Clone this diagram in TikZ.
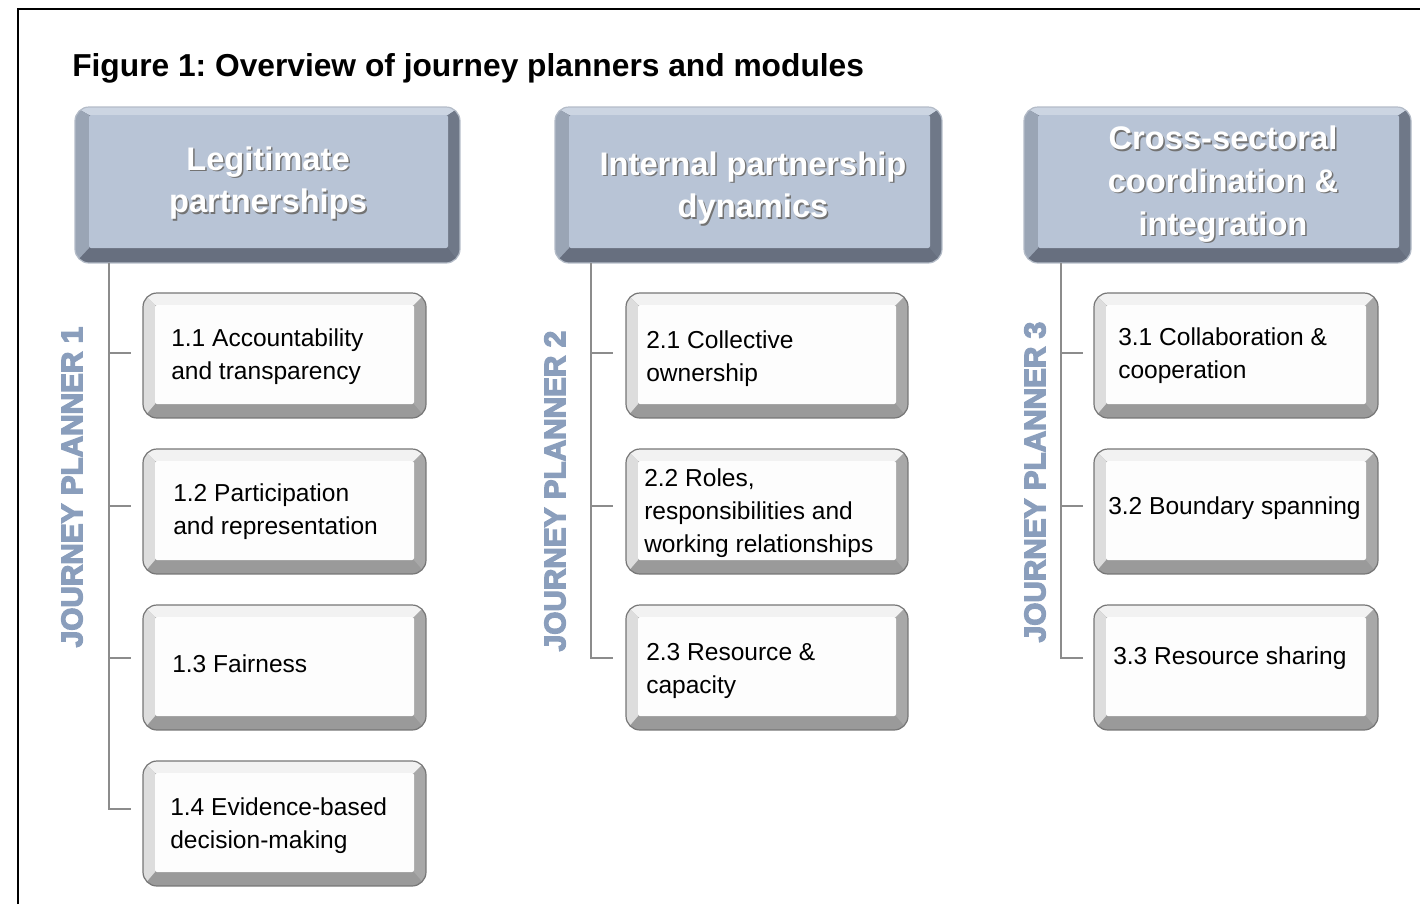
\documentclass[tikz,border=0pt]{standalone}
\usepackage{fontspec}
\setmainfont{Liberation Sans}
\usetikzlibrary{fit}
\frenchspacing

% heavy outlined-and-filled lettering for the planner labels
\newcommand\heavytext[1]{\special{pdf:literal direct 2 Tr 1.0 w}#1\special{pdf:literal direct 0 Tr}}

% palettes for the beveled boxes
\definecolor{hdrface}{HTML}{B8C4D6}
\definecolor{hdrtop}{HTML}{CCD5E2}
\definecolor{hdrleft}{HTML}{9AA5B5}
\definecolor{hdrright}{HTML}{6F7888}
\definecolor{hdrbottom}{HTML}{676F7F}
\definecolor{hdrline}{HTML}{B4BCC8}
\definecolor{modface}{HTML}{FDFDFD}
\definecolor{modtop}{HTML}{F2F2F2}
\definecolor{modleft}{HTML}{DDDDDD}
\definecolor{modright}{HTML}{A8A8A8}
\definecolor{modbottom}{HTML}{9A9A9A}
\definecolor{modline}{HTML}{767676}
\definecolor{plannerblue}{HTML}{8A9EBC}
\definecolor{treegray}{HTML}{8C8C8C}

% bevel widths (left, right, top, bottom) per palette
\def\hdrinL{14}\def\hdrinR{12}\def\hdrinT{8}\def\hdrinB{15}
\def\modinL{12}\def\modinR{12}\def\modinT{12}\def\modinB{14}

% #1 name, #2 left, #3 top, #4 right, #5 bottom, #6 palette
\newcommand\bevelbox[6]{%
  \pgfmathsetmacro\bxa{#2+\csname #6inL\endcsname}%
  \pgfmathsetmacro\bxb{#4-\csname #6inR\endcsname}%
  \pgfmathsetmacro\bya{#3+\csname #6inT\endcsname}%
  \pgfmathsetmacro\byb{#5-\csname #6inB\endcsname}%
  \begin{scope}
    \clip[rounded corners=10.5pt] (#2,#3) rectangle (#4,#5);
    \fill[fill=#6bottom] (#2,#3) rectangle (#4,#5);
    \fill[fill=#6top] (#2,#3) -- (#4,#3) -- (\bxb,\bya) -- (\bxa,\bya) -- cycle;
    \fill[fill=#6left] (#2,#3) -- (\bxa,\bya) -- (\bxa,\byb) -- (#2,#5) -- cycle;
    \fill[fill=#6right] (#4,#3) -- (\bxb,\bya) -- (\bxb,\byb) -- (#4,#5) -- cycle;
  \end{scope}
  \fill[fill=#6face, rounded corners=1.5pt] (\bxa,\bya) rectangle (\bxb,\byb);
  \draw[draw=#6line, line width=0.9pt, rounded corners=10.5pt] (#2,#3) rectangle (#4,#5);
  \node[fit={(#2,#3) (#4,#5)}, inner sep=0pt] (#1) {};
}

\tikzset{
  frameline/.style={line width=2.2pt, draw=black},
  titletext/.style={font=\bfseries\fontsize{23.8}{28}\selectfont, inner sep=0pt, anchor=base west},
  hdrtext/.style={font=\bfseries\fontsize{24.5}{32}\selectfont, align=center, text=white, inner sep=0pt},
  hdrshadow/.style={font=\bfseries\fontsize{24.5}{32}\selectfont, align=center, text=black!55, inner sep=0pt},
  modtext/.style={font=\fontsize{18.4}{24.75}\selectfont, align=left, inner sep=0pt, anchor=west},
  plannerlabel/.style={font=\bfseries\fontsize{22.3}{26}\selectfont, text=plannerblue, rotate=90, inner sep=0pt},
  tree/.style={draw=treegray, line width=1.5pt},
}

\begin{document}
\begin{tikzpicture}[x=0.75pt, y=-0.75pt]
\useasboundingbox (0,0) rectangle (1420,904);

% page frame (top and left rules)
\draw[frameline] (18,904) -- (18,9) -- (1422,9);

\node[titletext] (title) at (72,76) {Figure 1: Overview of journey planners and modules};

% journey planner headers
\bevelbox{h1}{75}{107}{460}{263}{hdr}
\bevelbox{h2}{555}{107}{942}{263}{hdr}
\bevelbox{h3}{1024}{107}{1411}{263}{hdr}

\node[hdrshadow] (h1s) at (269.5,184.5) {Legitimate\\partnerships};
\node[hdrtext]   (h1t) at (268,183) {Legitimate\\partnerships};
\node[hdrshadow] (h2s) at (754.5,189.5) {Internal partnership\\dynamics};
\node[hdrtext]   (h2t) at (753,188) {Internal partnership\\dynamics};
\node[hdrshadow] (h3s) at (1224.5,185.5) {Cross-sectoral\\coordination \&\\integration};
\node[hdrtext]   (h3t) at (1223,184) {Cross-sectoral\\coordination \&\\integration};

% vertical planner labels
\node[plannerlabel] (p1) at (72,487) {\heavytext{JOURNEY PLANNER 1}};
\node[plannerlabel] (p2) at (555,491) {\heavytext{JOURNEY PLANNER 2}};
\node[plannerlabel] (p3) at (1035,482) {\heavytext{JOURNEY PLANNER 3}};

% module boxes
\bevelbox{m11}{143}{293}{426}{418}{mod}
\bevelbox{m12}{143}{449}{426}{574}{mod}
\bevelbox{m13}{143}{605}{426}{730}{mod}
\bevelbox{m14}{143}{761}{426}{886}{mod}
\bevelbox{m21}{626}{293}{908}{418}{mod}
\bevelbox{m22}{626}{449}{908}{574}{mod}
\bevelbox{m23}{626}{605}{908}{730}{mod}
\bevelbox{m31}{1094}{293}{1378}{418}{mod}
\bevelbox{m32}{1094}{449}{1378}{574}{mod}
\bevelbox{m33}{1094}{605}{1378}{730}{mod}

\node[modtext] (t11) at (171,357) {1.1 Accountability\\and transparency};
\node[modtext] (t12) at (173,512) {1.2 Participation\\and representation};
\node[modtext] (t13) at (172,664) {1.3 Fairness};
\node[modtext] (t14) at (170,826) {1.4 Evidence-based\\decision-making};
\node[modtext] (t21) at (646,359) {2.1 Collective\\ownership};
\node[modtext] (t22) at (644,513) {2.2 Roles,\\responsibilities and\\working relationships};
\node[modtext] (t23) at (646,671) {2.3 Resource \&\\capacity};
\node[modtext] (t31) at (1118,356) {3.1 Collaboration \&\\cooperation};
\node[modtext] (t32) at (1108,508) {3.2 Boundary spanning};
\node[modtext] (t33) at (1113,658) {3.3 Resource sharing};

% tree connectors: trunk from each header, stubs toward each module
\coordinate (j1) at (h1.south -| 109,0);
\coordinate (s11) at (131,353);
\coordinate (s12) at (131,506);
\coordinate (s13) at (131,658);
\coordinate (s14) at (131,809);
\draw[tree] (j1) |- (s14);
\draw[tree] (j1 |- s11) -- (s11);
\draw[tree] (j1 |- s12) -- (s12);
\draw[tree] (j1 |- s13) -- (s13);

\coordinate (j2) at (h2.south -| 591,0);
\coordinate (s21) at (613,353);
\coordinate (s22) at (613,506);
\coordinate (s23) at (613,658);
\draw[tree] (j2) |- (s23);
\draw[tree] (j2 |- s21) -- (s21);
\draw[tree] (j2 |- s22) -- (s22);

\coordinate (j3) at (h3.south -| 1061,0);
\coordinate (s31) at (1083,353);
\coordinate (s32) at (1083,506);
\coordinate (s33) at (1083,658);
\draw[tree] (j3) |- (s33);
\draw[tree] (j3 |- s31) -- (s31);
\draw[tree] (j3 |- s32) -- (s32);
\end{tikzpicture}
\end{document}
